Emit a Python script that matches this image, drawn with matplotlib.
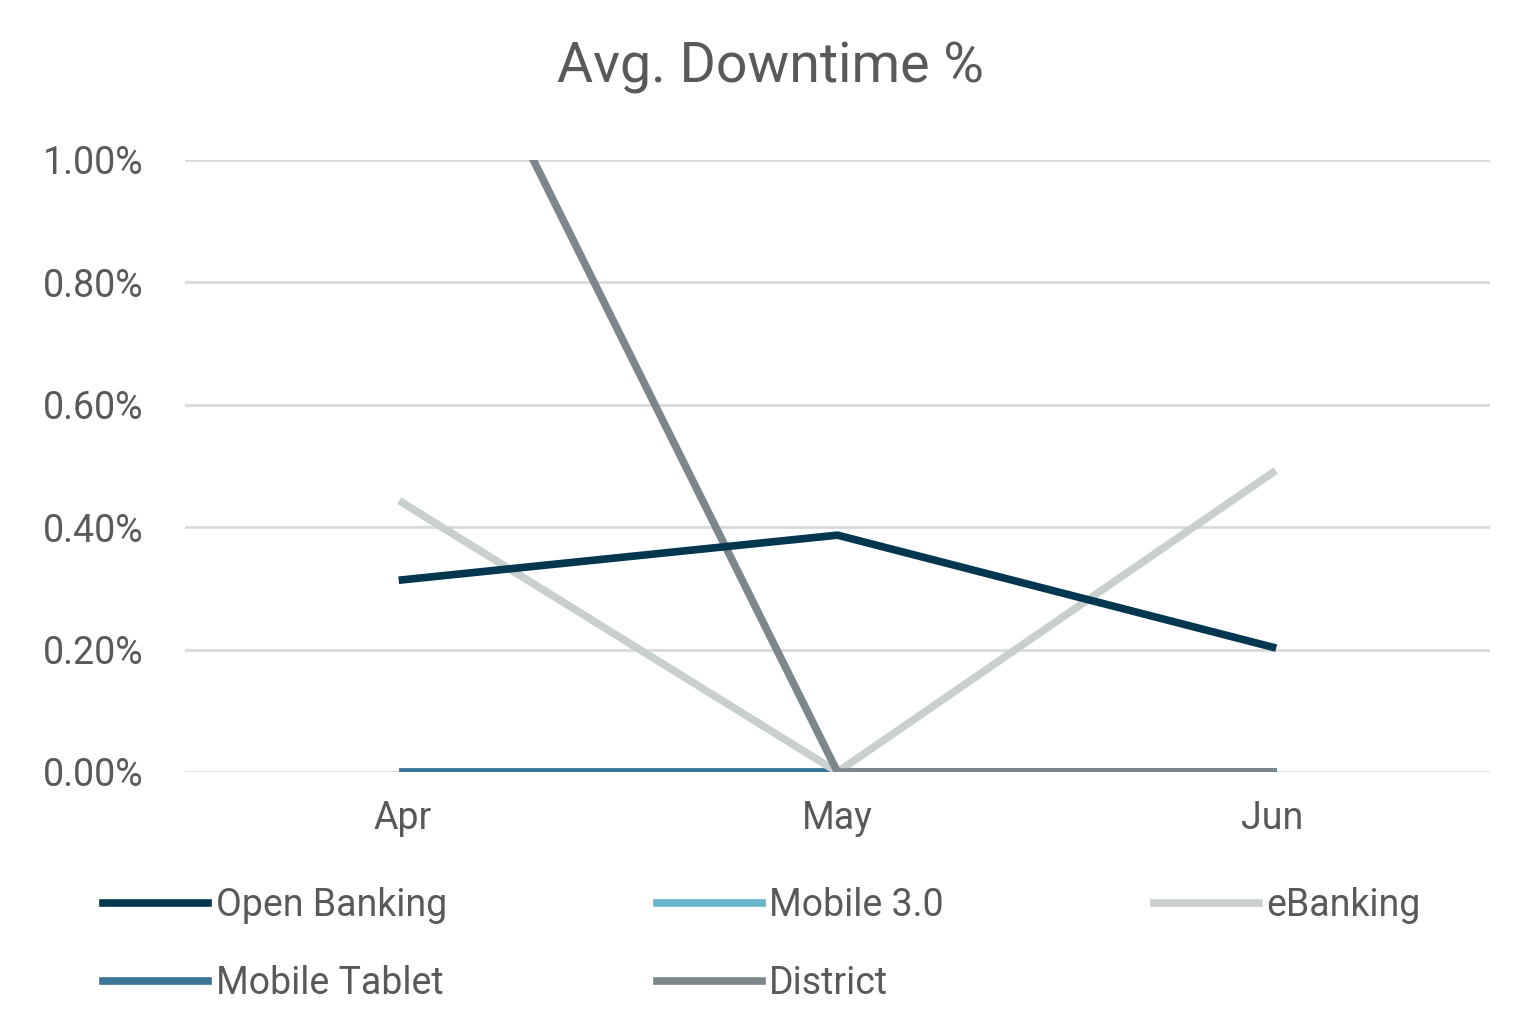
import matplotlib
matplotlib.use("Agg")
import matplotlib.pyplot as plt
from matplotlib.ticker import FuncFormatter

months = ["Apr", "May", "Jun"]
open_banking = [0.314, 0.387, 0.204]
mobile_30 = [0.0, 0.0, 0.0]
ebanking = [0.44, 0.0, 0.489]
mobile_tablet = [0.0, 0.0, 0.0]
district = [1.43, 0.0, 0.0]

plt.rcParams["font.family"] = "Roboto"
fig = plt.figure(figsize=(15.4, 10.32), dpi=100)
ax = fig.add_axes([185/1540, 1-772/1032, 1305/1540, 612/1032])
x = range(len(months))
lw = 5.5
ax.plot(x, mobile_30, color="#6ab4cc", lw=lw, label="Mobile 3.0")
ax.plot(x, mobile_tablet, color="#3a7595", lw=lw, label="Mobile Tablet")
ax.plot(x, ebanking, color="#c8cfcc", lw=lw, label="eBanking")
ax.plot(x, district, color="#7d878b", lw=lw, label="District")
ax.plot(x, open_banking, color="#03364f", lw=lw, label="Open Banking")
ax.set_xlim(-0.5, 2.5)
ax.set_ylim(0, 1.0)
ax.set_yticks([0, 0.2, 0.4, 0.6, 0.8, 1.0])
ax.yaxis.set_major_formatter(FuncFormatter(lambda v, p: f"{v:.2f}%"))
ax.set_xticks(list(x))
ax.set_xticklabels(months)
ax.grid(axis="y", color="#d9d9d9", lw=2)
ax.set_axisbelow(True)
for s in ax.spines.values():
    s.set_visible(False)
ax.tick_params(length=0, labelsize=27, labelcolor="#595959", pad=30)
ax.tick_params(axis="x", pad=20)
fig.suptitle("Avg. Downtime %", y=1-68/1032, va="center", fontsize=40, color="#595959")
h, l = ax.get_legend_handles_labels()
order = ["Open Banking", "Mobile Tablet", "Mobile 3.0", "District", "eBanking"]
hd = dict(zip(l, h))
fig.legend([hd[o] for o in order], order, loc="upper left", bbox_to_anchor=(88/1540, 1-872/1032),
           ncol=3, frameon=False, fontsize=27, labelcolor="#595959", handlelength=2.8,
           handletextpad=0.2, columnspacing=5.6, borderaxespad=0, labelspacing=1.1)
fig.savefig("out.png", dpi=100)
